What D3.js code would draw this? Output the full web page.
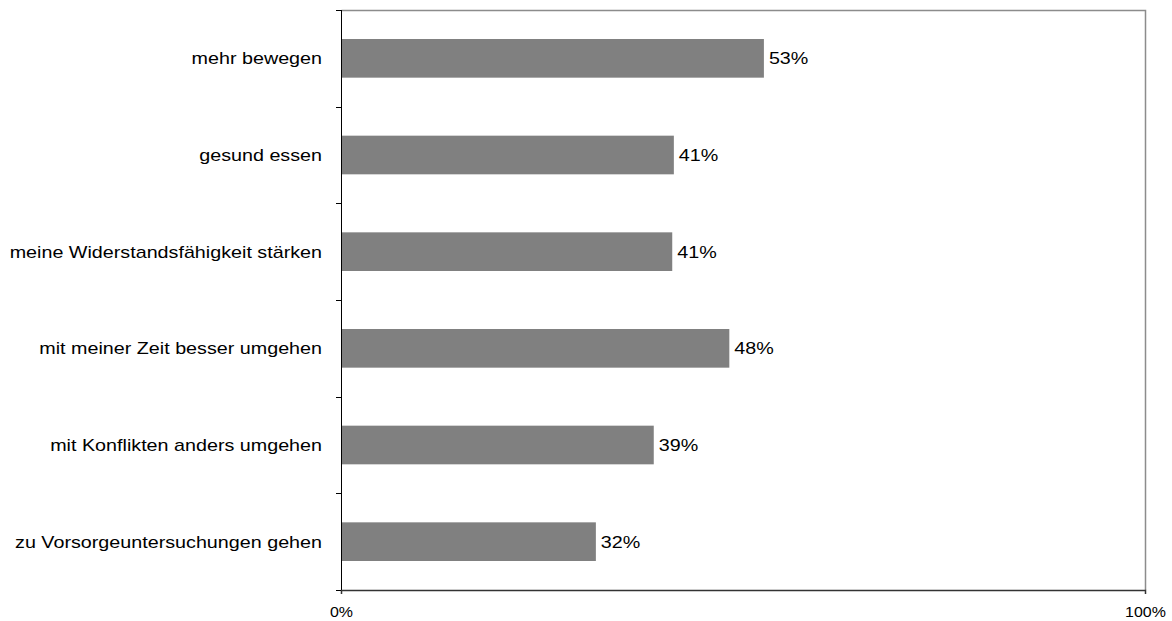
<!DOCTYPE html>
<html>
<head>
<meta charset="utf-8">
<script src="https://cdn.jsdelivr.net/npm/d3@7"></script>
<style>
  body { margin: 0; background: #fff; }
  text { font-family: "Liberation Sans", Arial, sans-serif; fill: #000; }
</style>
</head>
<body>
<svg id="chart" width="1172" height="621"></svg>
<script>
var categories = [
    "mehr bewegen",
    "gesund essen",
    "meine Widerstandsfähigkeit stärken",
    "mit meiner Zeit besser umgehen",
    "mit Konflikten anders umgehen",
    "zu Vorsorgeuntersuchungen gehen"
];
var values = [52.6, 41.4, 41.2, 48.3, 38.9, 31.7];
var valueLabels = ["53%", "41%", "41%", "48%", "39%", "32%"];
var xTicks = [0, 100];

// the source chart's lettering is a bit wider than its height suggests
var stretch = 1.16;

function drawChart() {
    var svg = d3.select("#chart"),
        margin = {top: 10, left: 341, right: 27, bottom: 31},
        width = svg.attr("width") - margin.left - margin.right,
        height = svg.attr("height") - margin.top - margin.bottom;

    var x = d3.scaleLinear().domain([0, 100]).range([0, width]),
        y = d3.scaleBand().domain(categories).range([0, height]).paddingInner(0.6).paddingOuter(0.3);

    var g = svg.append("g")
            .attr("transform", "translate(" + margin.left + "," + margin.top + ")");

    // plot frame (top and right)
    g.append("path")
     .attr("d", "M0.5,0.5H" + (width + 0.5) + "V" + height)
     .attr("fill", "none")
     .attr("stroke", "#8c8c8c")
     .attr("stroke-width", 1.5);

    g.selectAll(".bar")
     .data(values)
     .enter().append("rect")
     .attr("class", "bar")
     .attr("x", 0)
     .attr("y", function(d, i) { return y(categories[i]); })
     .attr("width", function(d) { return x(d); })
     .attr("height", y.bandwidth())
     .attr("fill", "#808080");

    g.selectAll(".val")
     .data(values)
     .enter().append("text")
     .attr("class", "val")
     .attr("transform", function(d, i) {
         return "translate(" + (x(d) + 5) + "," + (y(categories[i]) + y.bandwidth() / 2) + ") scale(" + stretch + ",1)";
     })
     .attr("dy", "0.36em")
     .attr("font-size", "17px")
     .attr("fill", "#111")
     .text(function(d, i) { return valueLabels[i]; });

    // category axis with ticks between bands
    var band = height / categories.length;
    var yAxis = g.append("g").attr("class", "y-axis");
    yAxis.append("line")
         .attr("x1", 0.5).attr("x2", 0.5)
         .attr("y1", 0).attr("y2", height)
         .attr("stroke", "#000");
    yAxis.selectAll(".ytick")
         .data(d3.range(categories.length + 1))
         .enter().append("line")
         .attr("x1", -5).attr("x2", 0)
         .attr("y1", function(d) { return Math.round(d * band) + 0.5; })
         .attr("y2", function(d) { return Math.round(d * band) + 0.5; })
         .attr("stroke", "#000");
    yAxis.selectAll(".ylabel")
         .data(categories)
         .enter().append("text")
         .attr("transform", function(d) {
             return "translate(-19," + (y(d) + y.bandwidth() / 2) + ") scale(" + stretch + ",1)";
         })
         .attr("dy", "0.36em")
         .attr("text-anchor", "end")
         .attr("font-size", "17px")
         .attr("fill", "#111")
         .text(function(d) { return d; });

    var xAxis = g.append("g")
     .attr("transform", "translate(0," + height + ")")
     .call(d3.axisBottom(x).tickValues(xTicks).tickSize(4).tickPadding(13)
            .tickFormat(function(d) { return d + "%"; }));
    xAxis.select(".domain").attr("stroke", "#333").attr("stroke-width", 1.5);
    xAxis.selectAll(".tick line").attr("stroke", "#333");
    xAxis.selectAll(".tick text")
         .attr("font-size", "14.5px")
         .attr("font-family", "Liberation Sans, Arial, sans-serif")
         .attr("fill", "#111")
         .attr("transform", "scale(1.1,1)");
}

drawChart();
</script>
</body>
</html>
